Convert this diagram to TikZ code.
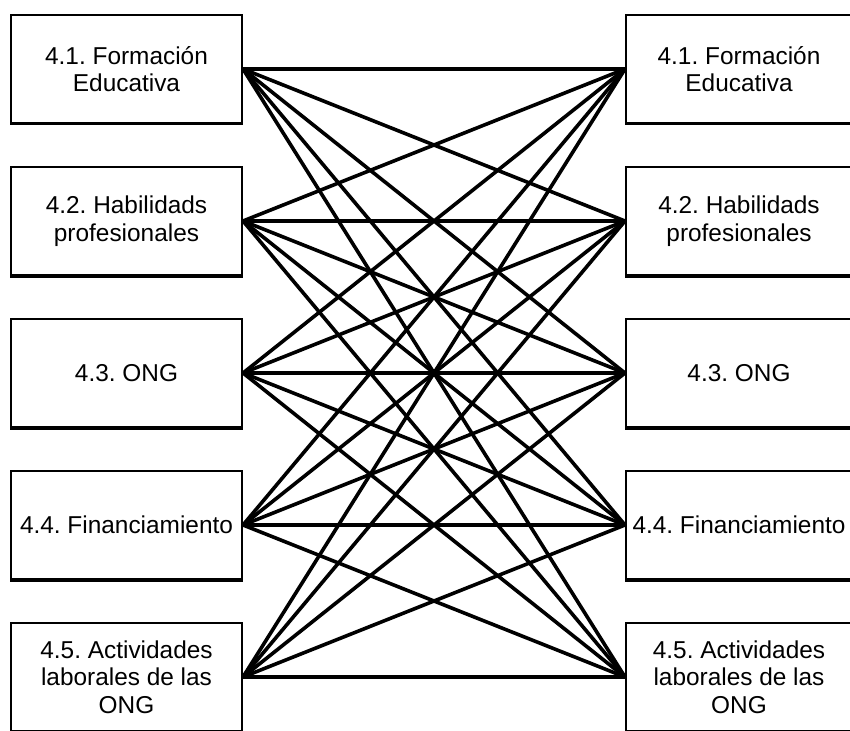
\documentclass[tikz,border=0pt]{standalone}
\usepackage{fontspec}
\setmainfont{Liberation Sans}
\frenchspacing
\begin{document}
\begin{tikzpicture}[x=1pt,y=-1pt,
  box/.style={draw=black, line width=2pt, fill=white, rectangle, align=center,
    minimum height=108pt, inner sep=0pt,
    font=\fontsize{24.4}{27.6}\selectfont},
  lbox/.style={box, minimum width=231pt},
  rbox/.style={box, minimum width=226pt},
  link/.style={line width=3.6pt, line cap=round, black}]
\useasboundingbox (0,0) rectangle (850,730);
\clip (0,0) rectangle (850,730);

% left column
\node[lbox] (l1) at (126.5,69)  {4.1. Formación\\Educativa};
\node[lbox] (l2) at (126.5,221) {4.2. Habilidads\\profesionales};
\node[lbox] (l3) at (126.5,373) {4.3. ONG};
\node[lbox] (l4) at (126.5,525) {4.4. Financiamiento};
\node[lbox] (l5) at (126.5,677) {4.5. Actividades\\laborales de las\\ONG};

% right column
\node[rbox] (r1) at (739,69)  {4.1. Formación\\Educativa};
\node[rbox] (r2) at (739,221) {4.2. Habilidads\\profesionales};
\node[rbox] (r3) at (739,373) {4.3. ONG};
\node[rbox] (r4) at (739,525) {4.4. Financiamiento};
\node[rbox] (r5) at (739,677) {4.5. Actividades\\laborales de las\\ONG};

% heavier lower edges of the boxes
\foreach \n in {l1,l2,l3,l4,l5,r1,r2,r3,r4,r5}
  \draw[line width=3pt] (\n.south west) -- (\n.south east);

% every item on the left linked with every item on the right
\foreach \i in {1,...,5}
  \foreach \j in {1,...,5}
    \draw[link] (l\i.east) -- (r\j.west);
\end{tikzpicture}
\end{document}
